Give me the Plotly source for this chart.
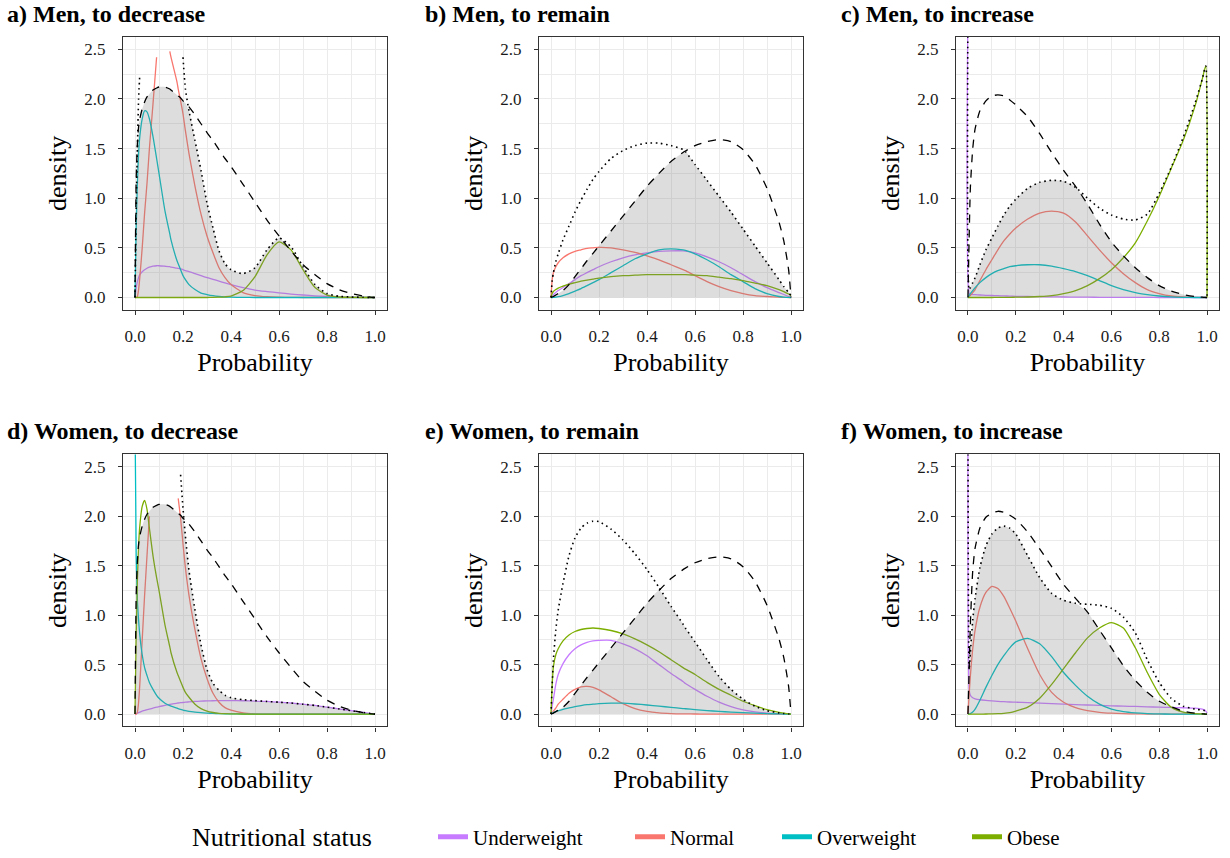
import plotly.graph_objects as go

# ---------------- data ----------------
NAMES = ["Underweight", "Normal", "Overweight", "Obese"]
COLORS = ["#C77CFF", "#F8766D", "#00BFC4", "#7CAE00"]

# grid for "to decrease" panels (a, d)
X_DEC = [0, 0.005, 0.01, 0.015, 0.02, 0.03, 0.04, 0.05, 0.06, 0.075, 0.09, 0.1, 0.125, 0.145, 0.15, 0.175,
         0.18, 0.19, 0.2, 0.21, 0.225, 0.25, 0.275, 0.3, 0.325, 0.35, 0.375, 0.4, 0.45, 0.5, 0.55, 0.6, 0.65,
         0.7, 0.75, 0.8, 0.85, 0.9, 0.95, 0.98, 1.0]
PRIOR_DEC = [0, 1.2, 1.55, 1.72, 1.8, 1.9, 1.97, 2.02, 2.05, 2.09, 2.11, 2.12, 2.12, 2.1, 2.09, 2.04, 2.03, 2.01,
             1.98, 1.96, 1.92, 1.84, 1.75, 1.66, 1.58, 1.49, 1.4, 1.32, 1.14, 0.96, 0.78, 0.62, 0.47, 0.33, 0.23,
             0.14, 0.08, 0.04, 0.015, 0.004, 0]

A_MIX = [0, 0.9, 1.5, 2.0, 2.25, None, None, None, None, None, None, None, None, None, None, None, None, None,
         2.42, 2.1, 1.88, 1.58, 1.28, 0.95, 0.7, 0.47, 0.34, 0.28, 0.24, 0.3, 0.48, 0.6, 0.51, 0.31, 0.13, 0.04,
         0.012, 0.005, 0.002, 0.001, 0]
A_UNDER = [0, 0.1, 0.16, 0.2, 0.23, 0.26, 0.28, 0.295, 0.305, 0.315, 0.32, 0.32, 0.315, 0.31, 0.305, 0.295, 0.293,
           0.288, 0.28, 0.27, 0.26, 0.24, 0.22, 0.2, 0.183, 0.165, 0.147, 0.13, 0.1, 0.075, 0.06, 0.047, 0.035,
           0.025, 0.017, 0.01, 0.005, 0.002, 0.001, 0, 0]
A_NORMAL = [0, 0, 0.01, 0.08, 0.2, 0.5, 0.85, 1.15, 1.5, 1.95, 2.42, None, None, 2.48, 2.42, 2.17, 2.1, 1.98,
            1.85, 1.68, 1.45, 1.12, 0.84, 0.62, 0.45, 0.3, 0.2, 0.13, 0.05, 0.02, 0.008, 0.003, 0.001, 0, 0, 0,
            0, 0, 0, 0, 0]
A_OVER = [0, 0.7, 1.15, 1.45, 1.62, 1.8, 1.88, 1.87, 1.8, 1.62, 1.4, 1.25, 0.87, 0.64, 0.58, 0.37, 0.34, 0.28,
          0.22, 0.18, 0.13, 0.08, 0.045, 0.03, 0.018, 0.01, 0.005, 0.003, 0.001, 0, 0, 0, 0, 0, 0, 0, 0, 0, 0,
          0, 0]
A_OBESE = [0, 0, 0, 0, 0, 0, 0, 0, 0, 0, 0, 0, 0, 0, 0, 0, 0, 0, 0, 0, 0, 0, 0, 0, 0.001, 0.003, 0.007, 0.015,
           0.07, 0.21, 0.43, 0.56, 0.48, 0.28, 0.1, 0.025, 0.005, 0.001, 0, 0, 0]

D_MIX = [None, None, None, None, None, None, None, None, None, None, None, None, None, None, None, None, None,
         2.42, 2.08, 1.8, 1.45, 1.05, 0.7, 0.45, 0.31, 0.24, 0.19, 0.165, 0.145, 0.136, 0.128, 0.12, 0.112, 0.1,
         0.087, 0.07, 0.053, 0.035, 0.017, 0.006, 0]
D_UNDER = [0, 0.005, 0.01, 0.015, 0.02, 0.03, 0.037, 0.045, 0.05, 0.06, 0.07, 0.075, 0.088, 0.097, 0.1, 0.11,
           0.112, 0.115, 0.117, 0.12, 0.123, 0.128, 0.131, 0.133, 0.135, 0.136, 0.137, 0.137, 0.135, 0.132, 0.128,
           0.12, 0.112, 0.1, 0.087, 0.07, 0.053, 0.035, 0.017, 0.006, 0]
D_NORMAL = [0, 0, 0.02, 0.12, 0.3, 0.75, 1.2, 1.6, 2.0, None, None, None, None, None, None, None, 2.18, 1.98,
            1.72, 1.48, 1.2, 0.85, 0.56, 0.36, 0.21, 0.12, 0.065, 0.04, 0.012, 0.003, 0, 0, 0, 0, 0, 0, 0, 0, 0,
            0, 0]
D_OVER = [3.0, 1.6, 1.15, 0.95, 0.8, 0.6, 0.47, 0.39, 0.32, 0.25, 0.19, 0.16, 0.11, 0.085, 0.08, 0.06, 0.055,
          0.048, 0.04, 0.035, 0.028, 0.02, 0.014, 0.01, 0.007, 0.005, 0.003, 0.002, 0.001, 0, 0, 0, 0, 0, 0, 0,
          0, 0, 0, 0, 0]
D_OBESE = [0, 0.8, 1.35, 1.7, 1.9, 2.1, 2.16, 2.07, 1.88, 1.6, 1.38, 1.25, 0.9, 0.68, 0.62, 0.42, 0.39, 0.33,
           0.27, 0.22, 0.17, 0.1, 0.055, 0.03, 0.016, 0.008, 0.004, 0.002, 0.001, 0, 0, 0, 0, 0, 0, 0, 0, 0, 0,
           0, 0]

# grid for "to remain" panels (b, e)
X_REM = [0, 0.005, 0.01, 0.02, 0.03, 0.05, 0.075, 0.1, 0.125, 0.15, 0.175, 0.2, 0.25, 0.3, 0.35, 0.4, 0.45, 0.5,
         0.55, 0.56, 0.6, 0.65, 0.7, 0.75, 0.8, 0.85, 0.9, 0.95, 0.97, 0.99, 1.0]
PRIOR_REM = [0, 0.005, 0.01, 0.025, 0.04, 0.07, 0.13, 0.21, 0.29, 0.37, 0.445, 0.52, 0.67, 0.82, 0.97, 1.12, 1.25,
             1.37, 1.46, 1.475, 1.53, 1.57, 1.59, 1.57, 1.49, 1.34, 1.1, 0.76, 0.57, 0.28, 0]

B_MIX = [0, 0.17, 0.25, 0.36, 0.44, 0.58, 0.72, 0.86, 0.98, 1.09, 1.19, 1.27, 1.4, 1.48, 1.53, 1.555, 1.555, 1.53,
         1.49, 1.47, 1.34, 1.18, 1.02, 0.86, 0.69, 0.52, 0.35, 0.18, 0.11, 0.05, 0.02]
B_UNDER = [0, 0.015, 0.03, 0.05, 0.07, 0.1, 0.14, 0.18, 0.22, 0.25, 0.28, 0.31, 0.36, 0.4, 0.43, 0.45, 0.465, 0.47,
           0.47, 0.468, 0.45, 0.41, 0.36, 0.3, 0.23, 0.16, 0.1, 0.05, 0.03, 0.01, 0]
B_NORMAL = [0, 0.18, 0.25, 0.31, 0.35, 0.4, 0.44, 0.465, 0.48, 0.495, 0.5, 0.505, 0.5, 0.48, 0.455, 0.42, 0.38,
            0.33, 0.28, 0.27, 0.22, 0.16, 0.11, 0.07, 0.04, 0.02, 0.01, 0.003, 0.001, 0, 0]
B_OVER = [0, 0, 0.001, 0.004, 0.008, 0.02, 0.04, 0.065, 0.09, 0.12, 0.15, 0.18, 0.25, 0.32, 0.39, 0.44, 0.48, 0.49,
          0.48, 0.475, 0.44, 0.38, 0.31, 0.23, 0.16, 0.09, 0.04, 0.01, 0.004, 0.001, 0]
B_OBESE = [0, 0.04, 0.06, 0.08, 0.095, 0.115, 0.135, 0.15, 0.165, 0.175, 0.185, 0.195, 0.21, 0.22, 0.225, 0.23,
           0.23, 0.23, 0.23, 0.23, 0.225, 0.22, 0.205, 0.19, 0.17, 0.145, 0.12, 0.08, 0.06, 0.035, 0.02]

E_MIX = [0, 0.3, 0.55, 0.85, 1.05, 1.32, 1.6, 1.78, 1.88, 1.93, 1.95, 1.945, 1.87, 1.76, 1.62, 1.46, 1.28, 1.09,
         0.91, 0.87, 0.73, 0.55, 0.38, 0.25, 0.15, 0.08, 0.035, 0.012, 0.006, 0.002, 0]
E_UNDER = [0, 0.08, 0.15, 0.3, 0.4, 0.51, 0.6, 0.66, 0.7, 0.725, 0.74, 0.745, 0.745, 0.71, 0.66, 0.59, 0.5, 0.41,
           0.33, 0.31, 0.25, 0.18, 0.12, 0.075, 0.043, 0.022, 0.009, 0.003, 0.001, 0, 0]
E_NORMAL = [0, 0.015, 0.03, 0.06, 0.1, 0.15, 0.21, 0.25, 0.275, 0.28, 0.27, 0.245, 0.175, 0.105, 0.055, 0.027,
            0.012, 0.005, 0.002, 0.002, 0.001, 0, 0, 0, 0, 0, 0, 0, 0, 0, 0]
E_OVER = [0, 0.008, 0.015, 0.025, 0.033, 0.048, 0.062, 0.075, 0.086, 0.095, 0.1, 0.105, 0.11, 0.11, 0.102, 0.092,
          0.08, 0.068, 0.056, 0.054, 0.045, 0.036, 0.027, 0.02, 0.014, 0.009, 0.005, 0.002, 0.001, 0, 0]
E_OBESE = [0, 0.3, 0.48, 0.6, 0.66, 0.74, 0.8, 0.835, 0.855, 0.865, 0.87, 0.865, 0.845, 0.81, 0.76, 0.7, 0.63,
           0.55, 0.47, 0.455, 0.4, 0.32, 0.25, 0.19, 0.13, 0.085, 0.045, 0.017, 0.009, 0.002, 0]

# grid for "to increase" panels (c, f)
X_INC = [0, 0.005, 0.01, 0.02, 0.03, 0.05, 0.075, 0.1, 0.125, 0.15, 0.175, 0.2, 0.25, 0.3, 0.35, 0.4, 0.45, 0.5,
         0.55, 0.6, 0.65, 0.7, 0.75, 0.8, 0.85, 0.9, 0.95, 0.98, 0.99, 0.995, 1.0]

C_PRIOR = [0, 0.6, 1.1, 1.5, 1.7, 1.88, 1.98, 2.03, 2.04, 2.03, 1.99, 1.94, 1.82, 1.65, 1.46, 1.28, 1.12, 0.94,
           0.74, 0.56, 0.42, 0.3, 0.2, 0.12, 0.065, 0.03, 0.01, 0.003, 0.001, 0, 0]
C_MIX = [3.0, 0.08, 0.1, 0.15, 0.2, 0.33, 0.48, 0.6, 0.72, 0.83, 0.92, 0.99, 1.1, 1.16, 1.18, 1.17, 1.11, 1.0,
         0.9, 0.83, 0.79, 0.78, 0.84, 1.05, 1.31, 1.61, 1.96, 2.2, 2.3, 2.33, 0]
C_UNDER = [3.0, 0.04, 0.035, 0.03, 0.028, 0.025, 0.022, 0.02, 0.018, 0.016, 0.014, 0.012, 0.01, 0.008, 0.006,
           0.005, 0.004, 0.003, 0.002, 0.002, 0.001, 0.001, 0.001, 0, 0, 0, 0, 0, 0, 0, 0]
C_NORMAL = [0, 0.01, 0.02, 0.05, 0.08, 0.17, 0.28, 0.38, 0.48, 0.57, 0.64, 0.7, 0.79, 0.85, 0.87, 0.85, 0.76,
            0.62, 0.48, 0.35, 0.24, 0.15, 0.08, 0.04, 0.015, 0.005, 0.001, 0, 0, 0, 0]
C_OVER = [0, 0.02, 0.04, 0.07, 0.1, 0.15, 0.2, 0.24, 0.27, 0.29, 0.31, 0.32, 0.33, 0.33, 0.315, 0.29, 0.26, 0.22,
          0.17, 0.12, 0.08, 0.05, 0.03, 0.015, 0.006, 0.002, 0, 0, 0, 0, 0]
C_OBESE = [0, 0, 0, 0, 0, 0, 0, 0, 0.001, 0.001, 0.002, 0.003, 0.005, 0.01, 0.02, 0.04, 0.07, 0.12, 0.19, 0.28,
           0.4, 0.55, 0.77, 1.02, 1.3, 1.58, 1.93, 2.2, 2.3, 2.33, 0]

F_PRIOR = [0, 0.45, 0.9, 1.45, 1.68, 1.88, 1.99, 2.03, 2.05, 2.04, 2.01, 1.97, 1.84, 1.67, 1.49, 1.31, 1.17, 1.03,
           0.85, 0.67, 0.49, 0.34, 0.22, 0.13, 0.075, 0.03, 0.01, 0.003, 0.001, 0, 0]
F_MIX = [3.0, 0.45, 0.62, 0.95, 1.17, 1.48, 1.7, 1.82, 1.88, 1.9, 1.88, 1.82, 1.6, 1.38, 1.22, 1.15, 1.12, 1.11,
         1.1, 1.07, 0.98, 0.82, 0.55, 0.32, 0.16, 0.08, 0.05, 0.04, 0.035, 0.03, 0.01]
F_UNDER = [3.0, 0.25, 0.19, 0.165, 0.155, 0.145, 0.138, 0.133, 0.129, 0.125, 0.122, 0.12, 0.115, 0.11, 0.105, 0.1,
           0.096, 0.092, 0.088, 0.084, 0.08, 0.077, 0.073, 0.07, 0.067, 0.064, 0.06, 0.05, 0.04, 0.03, 0.01]
F_NORMAL = [0, 0.2, 0.38, 0.66, 0.85, 1.08, 1.23, 1.29, 1.27, 1.19, 1.07, 0.94, 0.66, 0.4, 0.22, 0.12, 0.065,
            0.035, 0.018, 0.009, 0.004, 0.002, 0.001, 0, 0, 0, 0, 0, 0, 0, 0]
F_OVER = [0, 0.001, 0.005, 0.02, 0.05, 0.14, 0.27, 0.39, 0.5, 0.59, 0.67, 0.73, 0.765, 0.71, 0.58, 0.42, 0.29,
          0.18, 0.1, 0.05, 0.025, 0.012, 0.005, 0.002, 0, 0, 0, 0, 0, 0, 0]
F_OBESE = [0, 0, 0, 0, 0, 0, 0.001, 0.002, 0.004, 0.008, 0.015, 0.03, 0.07, 0.16, 0.3, 0.46, 0.62, 0.77, 0.87,
           0.925, 0.87, 0.67, 0.42, 0.2, 0.07, 0.02, 0.004, 0.001, 0, 0, 0]

PANELS = [
    ("a) Men, to decrease", X_DEC, PRIOR_DEC, A_MIX, [A_UNDER, A_NORMAL, A_OVER, A_OBESE]),
    ("b) Men, to remain", X_REM, PRIOR_REM, B_MIX, [B_UNDER, B_NORMAL, B_OVER, B_OBESE]),
    ("c) Men, to increase", X_INC, C_PRIOR, C_MIX, [C_UNDER, C_NORMAL, C_OVER, C_OBESE]),
    ("d) Women, to decrease", X_DEC, PRIOR_DEC, D_MIX, [D_UNDER, D_NORMAL, D_OVER, D_OBESE]),
    ("e) Women, to remain", X_REM, PRIOR_REM, E_MIX, [E_UNDER, E_NORMAL, E_OVER, E_OBESE]),
    ("f) Women, to increase", X_INC, F_PRIOR, F_MIX, [F_UNDER, F_NORMAL, F_OVER, F_OBESE]),
]

# ---------------- layout constants (pixels of the reference picture) ----------------
W, H = 1230, 858
FONT = "Liberation Serif"
COLS_PX = [(123, 387), (539, 803), (956, 1219)]
ROWS_PX = [(37, 311), (456, 729)]
TITLE_X_PX = [5, 423, 839]
TITLE_Y_PX = [14, 433]
LEGEND_SWATCH_PX = [440, 637, 784, 974]
LEGEND_Y_PX = 840


def px_x(p):
    return p / W


def px_y(p):
    return 1 - p / H


for title, xs, prior, mix, dens in PANELS:
    for arr in [prior, mix] + dens:
        if len(arr) != len(xs):
            raise ValueError(f"{title}: length {len(arr)} != {len(xs)}")

fig = go.Figure()
layout = dict(
    width=W, height=H, margin=dict(l=0, r=0, t=0, b=0),
    paper_bgcolor="white", plot_bgcolor="white",
    font=dict(family=FONT, color="black"),
    annotations=[],
)

LINE_SHAPE = "spline"
SMOOTH = 0.6

for i, (title, xs, prior, mix, dens) in enumerate(PANELS):
    r, c = divmod(i, 3)
    sfx = "" if i == 0 else str(i + 1)
    xa, ya = "x" + sfx, "y" + sfx
    for name, color, ys in zip(NAMES, COLORS, dens):
        fig.add_trace(go.Scatter(x=xs, y=ys, mode="lines", name=name, legendgroup=name, showlegend=False,
                                 line=dict(color=color, width=1.3, shape=LINE_SHAPE, smoothing=SMOOTH),
                                 xaxis=xa, yaxis=ya, hoverinfo="skip"))
    overlap = [min(p, m if m is not None else float("inf")) for p, m in zip(prior, mix)]
    fig.add_trace(go.Scatter(x=xs, y=overlap, mode="lines", fill="tozeroy",
                             fillcolor="rgba(128,128,128,0.27)",
                             line=dict(width=0, shape=LINE_SHAPE, smoothing=SMOOTH), showlegend=False,
                             xaxis=xa, yaxis=ya, hoverinfo="skip"))
    fig.add_trace(go.Scatter(x=xs, y=prior, mode="lines", showlegend=False,
                             line=dict(color="black", width=1.3, dash="8px,7px", shape=LINE_SHAPE, smoothing=SMOOTH),
                             xaxis=xa, yaxis=ya, hoverinfo="skip"))
    fig.add_trace(go.Scatter(x=xs, y=mix, mode="lines", showlegend=False,
                             line=dict(color="black", width=1.6, dash="1.6px,3.6px", shape=LINE_SHAPE, smoothing=SMOOTH),
                             xaxis=xa, yaxis=ya, hoverinfo="skip"))

    x0, x1 = COLS_PX[c]
    y0, y1 = ROWS_PX[r]
    axis_common = dict(
        showline=True, linecolor="#333333", linewidth=1.1, mirror=True,
        ticks="outside", ticklen=4, tickwidth=1, tickcolor="#333333",
        tickfont=dict(family=FONT, size=17, color="#1a1a1a"),
        showgrid=True, gridcolor="#EBEBEB", gridwidth=1.1, zeroline=False,
        tickformat=".1f",
    )
    layout["xaxis" + sfx] = dict(
        axis_common, domain=[px_x(x0), px_x(x1)], anchor=ya, range=[-0.05, 1.05],
        tick0=0, dtick=0.2, ticklabelstandoff=7,
        minor=dict(tick0=0, dtick=0.1, showgrid=True, gridcolor="#EBEBEB", gridwidth=0.6, ticks=""),
        title=dict(text="Probability", font=dict(family=FONT, size=26, color="black"), standoff=7),
    )
    layout["yaxis" + sfx] = dict(
        axis_common, domain=[px_y(y1), px_y(y0)], anchor=xa, range=[-0.125, 2.625],
        tick0=0, dtick=0.5, ticklabelstandoff=9,
        minor=dict(tick0=0, dtick=0.25, showgrid=True, gridcolor="#EBEBEB", gridwidth=0.6, ticks=""),
        title=dict(text="density", font=dict(family=FONT, size=26, color="black"), standoff=10),
    )
    layout["annotations"].append(dict(
        text="<b>" + title + "</b>", xref="paper", yref="paper",
        x=px_x(TITLE_X_PX[c]), y=px_y(TITLE_Y_PX[r]), xanchor="left", yanchor="middle",
        showarrow=False, font=dict(family=FONT, size=24, color="black"),
    ))

# legend: title plus one entry per nutritional status, placed as in the reference
layout["annotations"].append(dict(
    text="Nutritional status", xref="paper", yref="paper", x=px_x(190), y=px_y(LEGEND_Y_PX),
    xanchor="left", yanchor="middle", showarrow=False, font=dict(family=FONT, size=26, color="black"),
))
for k, (name, color) in enumerate(zip(NAMES, COLORS)):
    lname = "legend" if k == 0 else f"legend{k + 1}"
    fig.add_trace(go.Scatter(x=[None], y=[None], mode="lines", name=name, legendgroup=name, legend=lname,
                             line=dict(color=color, width=5), showlegend=True, xaxis="x", yaxis="y"))
    layout[lname] = dict(
        orientation="h", x=px_x(LEGEND_SWATCH_PX[k] - 7), xanchor="left", y=px_y(LEGEND_Y_PX), yanchor="middle",
        font=dict(family=FONT, size=21, color="black"), bgcolor="rgba(0,0,0,0)",
    )

fig.update_layout(**layout)
# the page body gets no margin, so the 1230x858 figure fills the window exactly
fig.write_html("out.html", config={"displayModeBar": False},
               post_script="document.body.style.margin='0px';")
